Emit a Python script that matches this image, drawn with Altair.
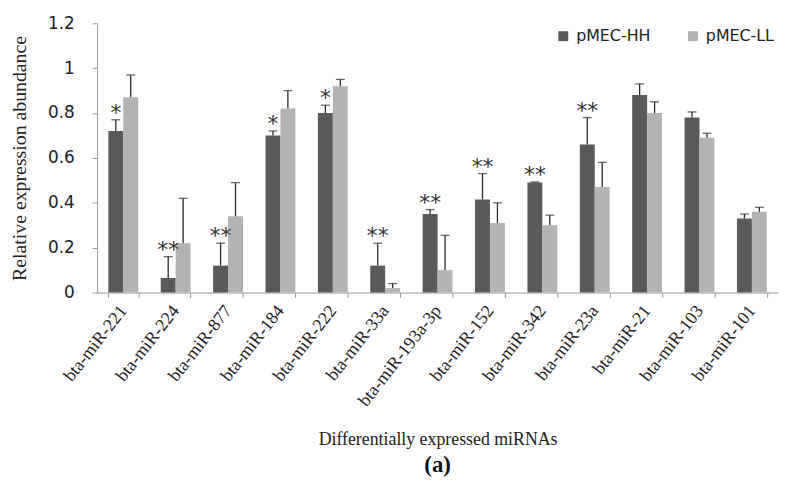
import altair as alt
import pandas as pd

mirnas = ["bta-miR-221", "bta-miR-224", "bta-miR-877", "bta-miR-184", "bta-miR-222",
          "bta-miR-33a", "bta-miR-193a-3p", "bta-miR-152", "bta-miR-342", "bta-miR-23a",
          "bta-miR-21", "bta-miR-103", "bta-miR-101"]
hh_vals = [0.72, 0.065, 0.12, 0.70, 0.80, 0.12, 0.35, 0.415, 0.49, 0.66, 0.88, 0.78, 0.33]
hh_err = [0.05, 0.095, 0.10, 0.02, 0.035, 0.10, 0.02, 0.115, 0.003, 0.12, 0.05, 0.025, 0.02]
ll_vals = [0.87, 0.22, 0.34, 0.82, 0.92, 0.02, 0.10, 0.31, 0.30, 0.47, 0.80, 0.69, 0.36]
ll_err = [0.10, 0.20, 0.15, 0.08, 0.03, 0.02, 0.155, 0.09, 0.045, 0.11, 0.05, 0.02, 0.02]
stars = ["*", "**", "**", "*", "*", "**", "**", "**", "**", "**", "", "", ""]
groups = ["pMEC-HH", "pMEC-LL"]

rows = []
for i, m in enumerate(mirnas):
    rows.append({"miRNA": m, "group": groups[0], "value": hh_vals[i],
                 "top": hh_vals[i] + hh_err[i], "star": stars[i]})
    rows.append({"miRNA": m, "group": groups[1], "value": ll_vals[i],
                 "top": ll_vals[i] + ll_err[i], "star": ""})
df = pd.DataFrame(rows)

x = alt.X("miRNA:N", sort=mirnas,
          scale=alt.Scale(paddingInner=0.43, paddingOuter=0.215),
          axis=alt.Axis(title="Differentially expressed miRNAs", labelAngle=-52,
                        labelFont="Liberation Serif", labelFontSize=18, labelColor="#222",
                        titleFont="Liberation Serif", titleFontSize=18, titleFontWeight="normal",
                        titleColor="#222", titlePadding=21, tickBand="extent",
                        domainColor="#999", tickColor="#999", tickSize=5, labelPadding=10))
xo = alt.XOffset("group:N", sort=groups)
color = alt.Color("group:N", sort=groups,
                  scale=alt.Scale(domain=groups, range=["#5a5a5a", "#b3b3b3"]),
                  legend=alt.Legend(title=None, orient="none", legendX=463, legendY=5,
                                    direction="horizontal", symbolType="square",
                                    symbolSize=100, symbolStrokeWidth=0,
                                    labelFont="DejaVu Sans", labelFontSize=16,
                                    labelColor="#222", columnPadding=34, labelOffset=5))
y = alt.Y("value:Q", scale=alt.Scale(domain=[0, 1.2], nice=False),
          axis=alt.Axis(title="Relative expression abundance", values=[0, 0.2, 0.4, 0.6, 0.8, 1.0, 1.2],
                        format="~g", grid=False, labelFont="DejaVu Sans", labelFontSize=17,
                        labelColor="#222", titleFont="Liberation Serif", titleFontSize=20,
                        titleFontWeight="normal", titleColor="#222", titlePadding=18,
                        domainColor="#999", tickColor="#999", tickSize=5, labelPadding=18))

base = alt.Chart(df)
bars = base.mark_bar(strokeWidth=0).encode(x=x, xOffset=xo, y=y, color=color)
err = base.mark_rule(color="#2a2a2a", strokeWidth=1.3).encode(
    x=x, xOffset=xo, y="value:Q", y2="top:Q")
caps = base.mark_tick(color="#2a2a2a", thickness=1.3, size=9, orient="horizontal").encode(
    x=x, xOffset=xo, y="top:Q")
star_txt = base.mark_text(fontSize=22, font="DejaVu Sans", color="#333", baseline="middle",
                          dy=-7).encode(
    x=x, xOffset=xo, y="top:Q", text="star:N")

chart = alt.layer(bars, err, caps, star_txt).properties(
    width=688, height=272,
    padding={"left": 90, "top": 13, "right": 9, "bottom": 195},
    autosize=alt.AutoSizeParams(type="none"),
    title=alt.TitleParams("(a)", orient="bottom", font="Liberation Serif", fontSize=23,
                          fontWeight="bold", color="#111", offset=6),
).configure_view(stroke=None).configure_axis(labelOverlap=False)

chart.save("out.html", embed_options={"renderer": "svg", "actions": False})
